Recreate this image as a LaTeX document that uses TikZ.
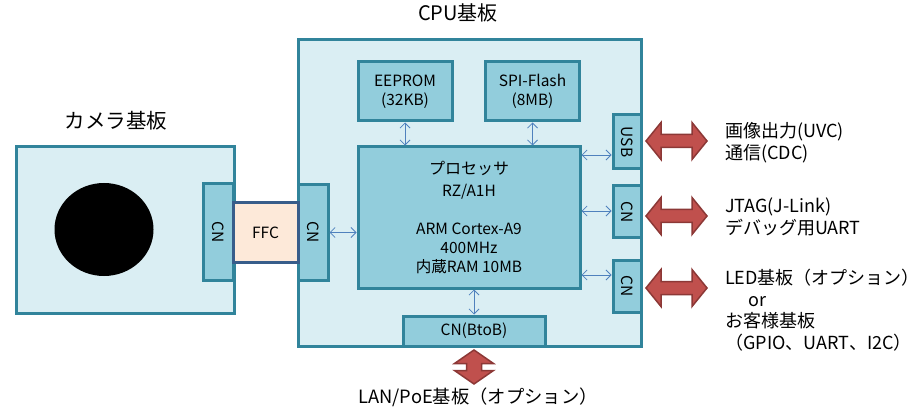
\documentclass[tikz,border=0pt]{standalone}
\usepackage{graphicx}
\usepackage{fontspec}
\setmainfont{Noto Sans CJK JP}
\usetikzlibrary{calc,arrows.meta}

\definecolor{boardFill}{HTML}{DAEEF3}
\definecolor{partFill}{HTML}{92CDDC}
\definecolor{boardLine}{HTML}{31849B}
\definecolor{ffcFill}{HTML}{FDE9D9}
\definecolor{ffcLine}{HTML}{385D8A}
\definecolor{linkBlue}{HTML}{4F81BD}
\definecolor{bigRed}{HTML}{C0504D}
\definecolor{bigRedLine}{HTML}{8C3836}

\begin{document}
\begin{tikzpicture}[x=1pt,y=-1pt,
	board/.style={draw=boardLine,fill=boardFill,line width=3pt,inner sep=0pt},
	part/.style={draw=boardLine,fill=partFill,line width=3pt,inner sep=0pt,align=center,font=\fontsize{15.5}{19}\selectfont},
	link/.style={linkBlue,line width=0.8pt,{Straight Barb[length=5pt,width=10pt]}-{Straight Barb[length=5pt,width=10pt]}},
	bigarrow/.style={draw=bigRedLine,fill=bigRed,line width=1.5pt},
	title/.style={font=\fontsize{20.5}{24}\selectfont},
	note/.style={font=\fontsize{18}{21.5}\selectfont,align=left,anchor=west,inner sep=0pt}]
	\newcommand{\headLen}{15}
	\newcommand{\headHalf}{18.5}
	\newcommand{\shaftHalf}{6.5}

	\useasboundingbox (0,0) rectangle (922,409);

	% camera board
	\node[title] (cam_title) at (116,121) {カメラ基板};
	\node[board,minimum width=218pt,minimum height=166pt] (cam_board) at (125,230) {};
	\fill[black] (104,229.5) coordinate (lens) ellipse [x radius=49.5, y radius=46.5];
	\node[part,minimum width=30pt,minimum height=96pt] (cam_cn) at (218,232) {\rotatebox{-90}{CN}};

	% cpu board
	\node[title,font=\fontsize{20}{24}\selectfont] (cpu_title) at (458,13) {CPU基板};
	\node[board,minimum width=343pt,minimum height=306pt] (cpu_board) at (469.5,193) {};
	\node[part,minimum width=30pt,minimum height=95pt] (cpu_cn) at (313,232.5) {\rotatebox{-90}{CN}};
	\node[part,minimum width=94pt,minimum height=59pt] (eeprom) at (405,91.5) {EEPROM\\(32KB)};
	\node[part,minimum width=94pt,minimum height=59pt] (flash) at (532.5,91.5) {SPI-Flash\\(8MB)};
	\node[part,minimum width=222pt,minimum height=141pt] (proc) at (469,217.5)
		{{\fontsize{16}{19}\selectfont プロセッサ}\\[3pt]RZ/A1H\\[19pt]ARM Cortex-A9\\400MHz\\内蔵RAM 10MB};
	\node[part,minimum width=28pt,minimum height=54pt] (usb) at (627,142) {\rotatebox{-90}{USB}};
	\node[part,minimum width=28pt,minimum height=52pt] (jtag_cn) at (627,212) {\rotatebox{-90}{CN}};
	\node[part,minimum width=28pt,minimum height=52pt] (ext_cn) at (627,286) {\rotatebox{-90}{CN}};
	\node[part,minimum width=142pt,minimum height=30pt] (btob) at (474,331) {CN(BtoB)};

	% ffc between the boards
	\node[draw=ffcLine,fill=ffcFill,line width=3pt,minimum width=65pt,minimum height=59pt,font=\fontsize{15.5}{19}\selectfont] (ffc) at (265.5,232.5) {FFC};

	% small links
	\draw[link] (cpu_cn.east) -- (proc.west |- cpu_cn.east);
	\draw[link] (eeprom.south) -- (proc.north -| eeprom.south);
	\draw[link] (flash.south) -- (proc.north -| flash.south);
	\draw[link] (proc.east |- 0,155) -- (usb.west |- 0,155);
	\draw[link] (proc.east |- 0,211) -- (jtag_cn.west |- 0,211);
	\draw[link] (proc.east |- 0,275) -- (ext_cn.west |- 0,275);
	\draw[link] (proc.south -| btob.north) -- (btob.north);

	% big arrows
	\foreach \ay/\an in {141/usb_arrow, 216/jtag_arrow, 288/ext_arrow} {
		\coordinate (\an) at (676.5,\ay);
		\draw[bigarrow] (\an) ++(-30.5,0) -- ++(\headLen,-\headHalf) -- ++(0,\headHalf-\shaftHalf)
			-- ++(61-2*\headLen,0) -- ++(0,\shaftHalf-\headHalf) -- ++(\headLen,\headHalf)
			-- ++(-\headLen,\headHalf) -- ++(0,\shaftHalf-\headHalf) -- ++(2*\headLen-61,0)
			-- ++(0,\headHalf-\shaftHalf) -- cycle;
	}
	\coordinate (lan_arrow) at (474,367);
	\draw[bigarrow] (lan_arrow) ++(0,-17) -- ++(19.5,13.5) -- ++(-12,0) -- ++(0,7) -- ++(12,0)
		-- ++(-19.5,13.5) -- ++(-19.5,-13.5) -- ++(12,0) -- ++(0,-7) -- ++(-12,0) -- cycle;

	% outside labels
	\node[note] (usb_text) at (725,142.5) {画像出力(UVC)\\通信(CDC)};
	\node[note] (jtag_text) at (725,217) {JTAG(J-Link)\\デバッグ用UART};
	\node[note] (ext_text) at (725,310) {LED基板（オプション）\\\hspace{23pt}or\\お客様基板\\（GPIO、UART、I2C）};
	\node[font=\fontsize{18.3}{21}\selectfont] (lan_text) at (478,397) {LAN/PoE基板（オプション）};
\end{tikzpicture}
\end{document}
